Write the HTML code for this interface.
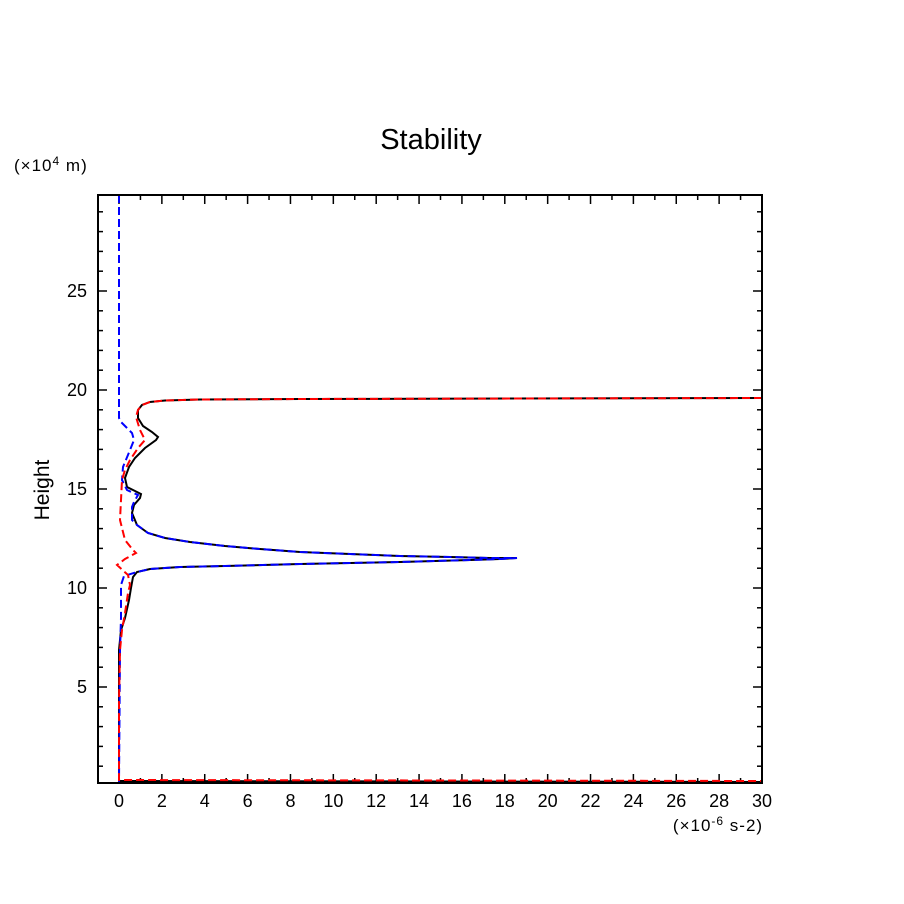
<!DOCTYPE html>
<html><head><meta charset="utf-8"><style>
html,body{margin:0;padding:0;background:#fff}
svg{display:block}
text{font-family:"Liberation Sans",sans-serif;fill:#000}
</style></head><body>
<svg width="904" height="904" viewBox="0 0 904 904" xmlns="http://www.w3.org/2000/svg">
<rect width="904" height="904" fill="#fff"/>
<text x="431" y="149" font-size="29" text-anchor="middle">Stability</text>
<text x="14" y="171" font-size="17" letter-spacing="1">(×10<tspan font-size="12" dy="-6">4</tspan><tspan dy="6"> m)</tspan></text>
<text x="49" y="490" font-size="21" text-anchor="middle" transform="rotate(-90 49 490)">Height</text>
<text x="718" y="831" font-size="17" text-anchor="middle" letter-spacing="1">(×10<tspan font-size="12" dy="-6">-6</tspan><tspan dy="6"> s-2)</tspan></text>
<g id="ticks" stroke="#000" stroke-width="1.5"></g>
<g font-size="18" text-anchor="middle" id="xl"></g>
<g font-size="18" text-anchor="end" id="yl"></g>
<g fill="none" stroke-width="2">
<polyline stroke="#000" points="119,783 119,650 121,630 125,618 129,600 131,588 133,577 137,572 150,569 180,567 225,566 300,564 400,562 470,560 500,559 517,558 490,558 450,557 400,556 350,554 300,552 260,549 225,546 190,542 165,538 148,533 137,525 132,513 134,505 140,498 141,494 135,491 127,487 125,478 129,467 135,458 145,448 156,440 158,437 152,432 143,426 138,418 138,410 142,405 150,402 165,400.5 200,399.5 300,399 762,398"/>
<polyline stroke="#000" points="119,781 762,782"/>
<polyline stroke="#00f" stroke-dasharray="8,4" points="119,195 119,418 121,422 127,428 132,433 134,440 130,450 123,467 122,480 127,490 138,495 134,502 132,507 132,520 137,525 148,533 165,538 190,542 225,546 260,549 300,552 350,554 400,556 450,557 490,558 517,558 500,559 470,560 400,562 300,564 225,566 180,567 150,569 137,572 124,576 121,585 121,618 120,650 119,783"/>
<polyline stroke="#f00" stroke-dasharray="8,4" points="762,398 300,399 200,399.5 165,400.5 150,402 142,405 138,410 136,417 140,430 145,440 138,448 130,460 125,470 122,480 121,500 120,520 125,540 133,550 136,553 125,559 117,565 128,575 130,585 128,593 125,613 122,630 120,650 119,700 119,780 762,781"/>
</g>
<rect x="98" y="195" width="664" height="588" fill="none" stroke="#000" stroke-width="2"/>
<script>
(function(){
var NS="http://www.w3.org/2000/svg",t=document.getElementById('ticks'),xl=document.getElementById('xl'),yl=document.getElementById('yl');
function ln(a,b,c,d){var l=document.createElementNS(NS,'line');l.setAttribute('x1',a);l.setAttribute('y1',b);l.setAttribute('x2',c);l.setAttribute('y2',d);t.appendChild(l);}
function tx(g,x,y,s){var e=document.createElementNS(NS,'text');e.setAttribute('x',x);e.setAttribute('y',y);e.textContent=s;g.appendChild(e);}
for(var v=0;v<=30;v++){var x=119+v*21.433;var maj=v%2==0;var L=maj?9:5;
ln(x,783,x,783-L);ln(x,195,x,195+L);if(maj)tx(xl,x,807,v);}
for(var h=1;h<=29;h++){var y=786-h*19.8;var maj=h%5==0;var L=maj?9:5;
ln(98,y,98+L,y);ln(762,y,762-L,y);if(maj)tx(yl,87,y+6,h);}
})();
</script>
</svg>
</body></html>
